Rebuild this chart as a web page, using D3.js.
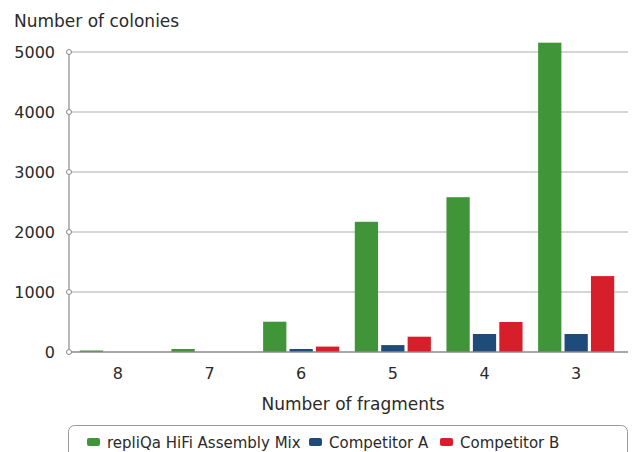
<!DOCTYPE html>
<html><head><meta charset="utf-8">
<script src="https://cdn.jsdelivr.net/npm/d3@7"></script>
<style>
html,body{margin:0;padding:0;background:#fff;}
svg{display:block;font-family:"DejaVu Sans",sans-serif;}
</style></head>
<body><svg id="c" width="636" height="452"></svg>
<script>
const categories = ["8","7","6","5","4","3"];
const seriesNames = ["repliQa HiFi Assembly Mix","Competitor A","Competitor B"];
const replica = [25, 50, 505, 2170, 2580, 5155];
const competitorA = [0, 0, 50, 115, 300, 300];
const competitorB = [0, 0, 90, 255, 500, 1265];
const yTicks = [0, 1000, 2000, 3000, 4000, 5000];
const colors = ["#3f9537", "#1f4b7a", "#d61f2a"];

const svg = d3.select("#c");
const values = [replica, competitorA, competitorB];
const y = d3.scaleLinear().domain([0, 5000]).range([352, 52]);
const x0 = d3.scaleBand().domain(categories).range([72, 622]).paddingInner(0.17).paddingOuter(0.085);
const x1 = d3.scaleBand().domain(seriesNames).range([0, x0.bandwidth()]).paddingInner(0.12);
const axisX = 69, rightX = 628;
const txt = "#2a2a2a";

// gridlines
svg.append("g").selectAll("line").data(yTicks.filter(d => d > 0)).join("line")
  .attr("x1", axisX).attr("x2", rightX).attr("y1", d => y(d)).attr("y2", d => y(d))
  .attr("stroke", "#c8c8c8").attr("stroke-width", 1.5);

// bars
const g = svg.append("g");
categories.forEach((c, i) => {
  seriesNames.forEach((s, j) => {
    const v = values[j][i];
    g.append("rect").attr("x", x0(c) + x1(s)).attr("width", x1.bandwidth())
      .attr("y", y(v)).attr("height", y(0) - y(v)).attr("fill", colors[j]);
  });
});

// y axis line
svg.append("line").attr("x1", axisX).attr("x2", axisX).attr("y1", y(5000)).attr("y2", y(0))
  .attr("stroke", "#8a8a8a").attr("stroke-width", 1.2);
// x axis line
svg.append("line").attr("x1", axisX).attr("x2", rightX).attr("y1", y(0)).attr("y2", y(0))
  .attr("stroke", "#8a8a8a").attr("stroke-width", 1.5);

// y ticks circles and labels
svg.append("g").selectAll("circle").data(yTicks).join("circle")
  .attr("cx", axisX).attr("cy", d => y(d)).attr("r", 2.5)
  .attr("fill", "#fff").attr("stroke", "#8a8a8a").attr("stroke-width", 1);
svg.append("g").selectAll("text").data(yTicks).join("text")
  .attr("x", 55).attr("y", d => y(d)).attr("dy", "0.36em").attr("text-anchor", "end")
  .attr("font-size", 16).attr("fill", txt).text(d => d);

// x labels
svg.append("g").selectAll("text").data(categories).join("text")
  .attr("x", d => x0(d) + x0.bandwidth() / 2).attr("y", 379).attr("text-anchor", "middle")
  .attr("font-size", 16).attr("fill", txt).text(d => d);

// titles
svg.append("text").attr("x", 14).attr("y", 27).attr("font-size", 17).attr("fill", txt).text("Number of colonies");
svg.append("text").attr("x", 353).attr("y", 410).attr("text-anchor", "middle").attr("font-size", 17).attr("fill", txt).text("Number of fragments");

// legend
svg.append("rect").attr("x", 68.5).attr("y", 425.5).attr("width", 559).attr("height", 40).attr("rx", 6)
  .attr("fill", "#fff").attr("stroke", "#999").attr("stroke-width", 1);
const legX = [87, 309, 440];
seriesNames.forEach((s, j) => {
  svg.append("rect").attr("x", legX[j]).attr("y", 438).attr("width", 13).attr("height", 8).attr("rx", 2).attr("fill", colors[j]);
  svg.append("text").attr("x", legX[j] + 20).attr("y", 448).attr("font-size", 15).attr("fill", txt).text(s);
});
</script></body></html>
